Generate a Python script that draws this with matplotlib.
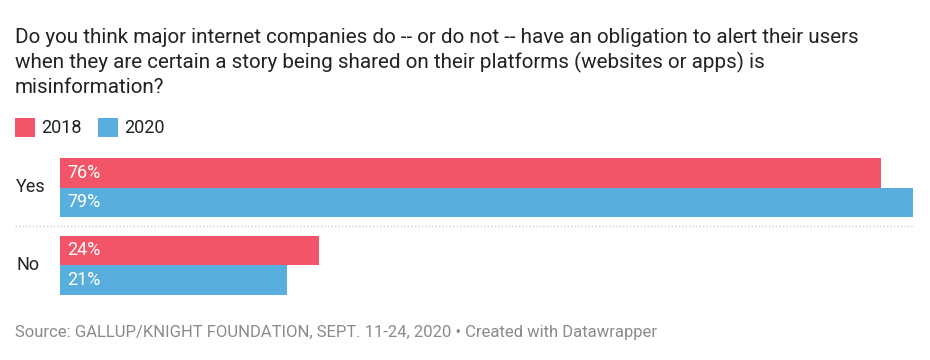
import matplotlib
matplotlib.use("Agg")
import matplotlib.pyplot as plt
from matplotlib.lines import Line2D
from matplotlib.patches import Rectangle

categories = ["Yes", "No"]
series_names = ["2018", "2020"]
values_2018 = [76, 24]
values_2020 = [79, 21]
colors = ["#f25468", "#58aedc"]

plt.rcParams['font.family'] = ['Roboto', 'DejaVu Sans']

W, H = 930, 360
fig = plt.figure(figsize=(W / 100, H / 100), dpi=100)

def fx(px):
    return px / W

def fy(py):
    return 1 - py / H

# Title
title_lines = ["Do you think major internet companies do -- or do not -- have an obligation to alert their users",
               "when they are certain a story being shared on their platforms (websites or apps) is",
               "misinformation?"]
for k, line in enumerate(title_lines):
    fig.text(fx(15), fy(43 + 25 * k), line, fontsize=14.9, color="#222222", va="baseline", ha="left")

# Legend
for i, (name, c) in enumerate(zip(series_names, colors)):
    x0 = [15, 98][i]
    fig.add_artist(Rectangle((fx(x0), fy(137)), fx(20), 19 / H, transform=fig.transFigure,
                             facecolor=c, edgecolor="none"))
    fig.text(fx(x0 + 26), fy(128), name, fontsize=13, color="#222222", va="center", ha="left")

# Axes
ax_top, ax_bot = 150, 300
ax = fig.add_axes([fx(60), fy(ax_bot), fx(913) - fx(60), (ax_bot - ax_top) / H])
spacing_px = 77.5
bh = 29.5 / spacing_px
yes_center_px = 187.5
top_lim = -(yes_center_px - ax_top) / spacing_px
bot_lim = top_lim + (ax_bot - ax_top) / spacing_px
ax.set_ylim(bot_lim, top_lim)
ax.set_xlim(0, max(values_2020))
ax.axis("off")

for i, cat in enumerate(categories):
    for j, (vals, c) in enumerate(zip([values_2018, values_2020], colors)):
        yc = i + (j - 0.5) * bh
        ax.barh(yc, vals[i], height=bh, color=c, edgecolor="none")
        ax.text(0.7, yc, f"{vals[i]}%", color="white", fontsize=13, va="center", ha="left")
    fig.text(fx(16), fy(yes_center_px + i * spacing_px), cat, fontsize=13, color="#222222",
             va="center", ha="left")

# Dotted separator
sep_y = fy(226)
fig.add_artist(Line2D([fx(15), fx(913)], [sep_y, sep_y], transform=fig.transFigure,
                      color="#cccccc", linewidth=1, linestyle=(0, (1, 1.5))))

# Source
fig.text(fx(15), fy(333), "Source: GALLUP/KNIGHT FOUNDATION, SEPT. 11-24, 2020 • Created with Datawrapper",
         fontsize=12, color="#8a8a8a", va="center", ha="left")

fig.savefig("out.png", dpi=100, facecolor="white")
